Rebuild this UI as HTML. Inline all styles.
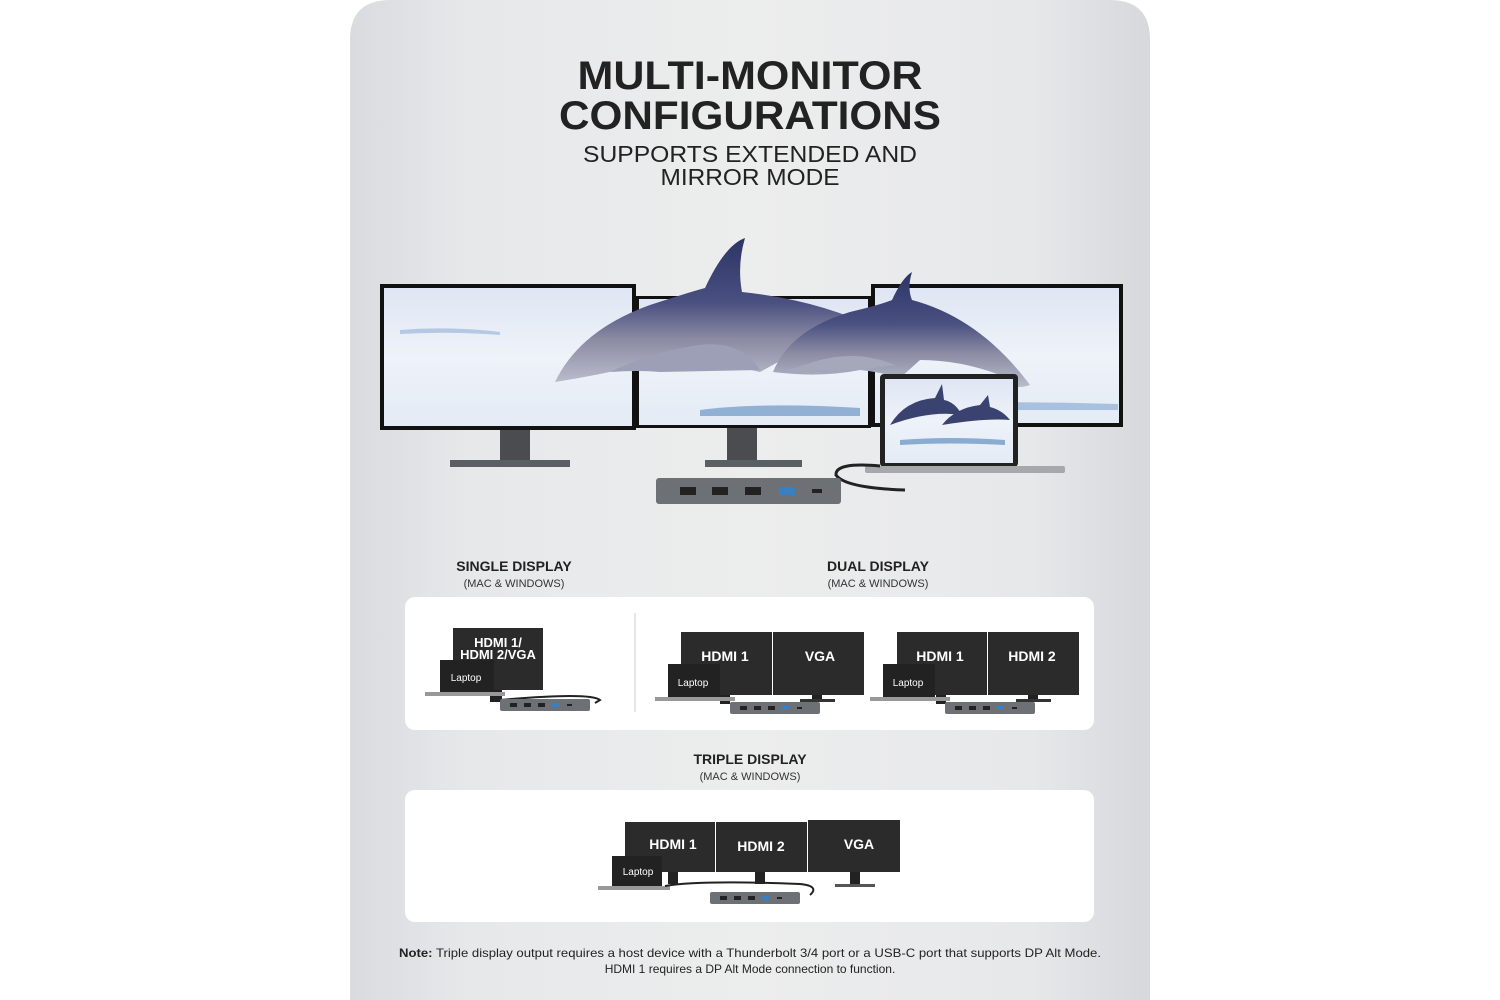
<!DOCTYPE html>
<html><head><meta charset="utf-8"><style>
html,body{margin:0;padding:0;background:#fff;width:1500px;height:1000px;overflow:hidden}
svg{display:block}
text{font-family:"Liberation Sans",sans-serif}
</style></head><body>
<svg width="1500" height="1000" viewBox="0 0 1500 1000" xmlns="http://www.w3.org/2000/svg">
<defs>
<linearGradient id="bg" x1="0" x2="1" y1="0" y2="0">
<stop offset="0" stop-color="#d9dbde"/><stop offset="0.15" stop-color="#e7e8ea"/><stop offset="0.5" stop-color="#eceded"/><stop offset="0.85" stop-color="#e7e8ea"/><stop offset="1" stop-color="#d6d8db"/>
</linearGradient>
<linearGradient id="scr" x1="0" x2="0" y1="0" y2="1">
<stop offset="0" stop-color="#dfe6f3"/><stop offset="0.5" stop-color="#eef2f9"/><stop offset="1" stop-color="#e4ebf5"/>
</linearGradient>
<linearGradient id="dol" x1="0" x2="0" y1="0" y2="1">
<stop offset="0" stop-color="#2c3566"/><stop offset="0.45" stop-color="#4a5080"/><stop offset="0.7" stop-color="#8a8aa3"/><stop offset="1" stop-color="#b9bccb"/>
</linearGradient>
<g id="hubS">
<rect x="0" y="0" width="90" height="12" rx="2" fill="#6d7074"/>
<rect x="10" y="4" width="7" height="4" fill="#222"/><rect x="24" y="4" width="7" height="4" fill="#222"/><rect x="38" y="4" width="7" height="4" fill="#222"/><rect x="52" y="4" width="7" height="4" fill="#3a7fc0"/><rect x="67" y="5" width="5" height="2" fill="#222"/>
</g>
</defs>
<path d="M350 40 Q350 0 390 0 L1110 0 Q1150 0 1150 40 L1150 1000 L350 1000 Z" fill="url(#bg)"/>

<text x="750" y="89" text-anchor="middle" font-size="40" font-weight="bold" fill="#222" textLength="345" lengthAdjust="spacingAndGlyphs">MULTI-MONITOR</text>
<text x="750" y="129" text-anchor="middle" font-size="40" font-weight="bold" fill="#222" textLength="382" lengthAdjust="spacingAndGlyphs">CONFIGURATIONS</text>
<text x="750" y="162" text-anchor="middle" font-size="23" fill="#222" textLength="334" lengthAdjust="spacingAndGlyphs">SUPPORTS EXTENDED AND</text>
<text x="750" y="185" text-anchor="middle" font-size="23" fill="#222" textLength="179" lengthAdjust="spacingAndGlyphs">MIRROR MODE</text>

<g>
<rect x="500" y="425" width="30" height="40" fill="#4a4c50"/><rect x="450" y="460" width="120" height="7" fill="#5b5e62"/>
<rect x="380" y="284" width="256" height="146" fill="#111"/><rect x="384" y="288" width="248" height="138" fill="url(#scr)"/>
<rect x="727" y="425" width="30" height="40" fill="#4a4c50"/><rect x="705" y="460" width="97" height="7" fill="#5b5e62"/>
<rect x="636" y="296" width="235" height="132" fill="#111"/><rect x="639" y="299" width="229" height="126" fill="url(#scr)"/>
<rect x="871" y="284" width="252" height="143" fill="#111"/><rect x="875" y="288" width="244" height="135" fill="url(#scr)"/>
<path d="M700 410 Q760 402 860 408 L860 416 L700 416Z" fill="#4a7fb8" opacity="0.55"/>
<path d="M880 405 Q1000 400 1118 404 L1118 410 L880 410Z" fill="#4a7fb8" opacity="0.4"/>
<path d="M400 330 Q450 326 500 332 L500 335 Q450 331 400 334Z" fill="#7fa3d0" opacity="0.5"/>
<path d="M555 382 Q580 330 650 305 Q690 292 705 288 Q725 245 745 238 Q737 265 742 292 Q820 300 880 330 Q845 345 800 350 L760 372 Q730 365 700 360 Q660 375 640 365 Q600 375 555 382Z" fill="url(#dol)"/>
<path d="M760 370 Q740 340 700 345 Q650 352 610 372 Q640 370 660 372Z" fill="#9d9fb6"/>
<path d="M773 372 Q790 330 850 312 Q880 305 892 300 Q902 278 912 272 Q907 288 912 300 Q980 318 1030 385 Q1010 392 1000 375 Q960 360 920 360 L900 378 Q880 372 860 370 Q820 378 773 372Z" fill="url(#dol)"/>
<path d="M895 365 Q860 350 820 360 Q795 368 780 372 Q820 370 860 370Z" fill="#a5a7bb"/>
<rect x="880" y="374" width="138" height="93" rx="4" fill="#222"/><rect x="885" y="379" width="128" height="84" fill="url(#scr)"/>
<path d="M890 425 Q905 400 935 398 L942 384 L944 400 Q955 402 962 415 Q930 410 890 425Z" fill="#3a4270"/>
<path d="M942 425 Q955 408 980 405 L988 395 L990 407 Q1002 410 1010 420 Q985 418 942 425Z" fill="#3a4270"/>
<path d="M900 440 Q950 436 1005 440 L1005 445 Q950 442 900 445Z" fill="#4a7fb8" opacity="0.6"/>
<rect x="865" y="466" width="200" height="7" rx="2" fill="#a6a8ac"/>
<path d="M880 466 Q835 462 836 475 Q845 488 905 490" stroke="#222" stroke-width="3" fill="none"/>
<rect x="656" y="478" width="185" height="26" rx="3" fill="#6d7074"/>
<rect x="680" y="487" width="16" height="8" fill="#222"/><rect x="712" y="487" width="16" height="8" fill="#222"/><rect x="745" y="487" width="16" height="8" fill="#222"/><rect x="779" y="487" width="16" height="8" fill="#3a7fc0"/><rect x="812" y="489" width="10" height="4" fill="#222"/>
</g>

<text x="514" y="571" text-anchor="middle" font-size="14" font-weight="bold" fill="#222">SINGLE DISPLAY</text>
<text x="514" y="587" text-anchor="middle" font-size="11" fill="#333">(MAC &amp; WINDOWS)</text>
<text x="878" y="571" text-anchor="middle" font-size="14" font-weight="bold" fill="#222">DUAL DISPLAY</text>
<text x="878" y="587" text-anchor="middle" font-size="11" fill="#333">(MAC &amp; WINDOWS)</text>
<text x="750" y="764" text-anchor="middle" font-size="14" font-weight="bold" fill="#222">TRIPLE DISPLAY</text>
<text x="750" y="780" text-anchor="middle" font-size="11" fill="#333">(MAC &amp; WINDOWS)</text>

<rect x="405" y="597" width="689" height="133" rx="10" fill="#fff"/>
<rect x="405" y="790" width="689" height="132" rx="10" fill="#fff"/>
<line x1="635" y1="613" x2="635" y2="712" stroke="#ccc" stroke-width="1"/>

<rect x="490" y="688" width="12" height="14" fill="#222"/>
<rect x="453" y="628" width="90" height="62" fill="#2b2b2b"/>
<text x="498" y="647" text-anchor="middle" font-size="13" font-weight="bold" fill="#fff">HDMI 1/</text>
<text x="498" y="659" text-anchor="middle" font-size="13" font-weight="bold" fill="#fff">HDMI 2/VGA</text>
<rect x="440" y="660" width="54" height="33" fill="#222"/>
<text x="466" y="681" text-anchor="middle" font-size="10" fill="#fff">Laptop</text>
<rect x="425" y="692" width="80" height="4" fill="#999"/>
<path d="M500 700 Q590 692 600 700 L595 703" stroke="#222" stroke-width="2" fill="none"/>
<use href="#hubS" x="500" y="699"/>

<rect x="720" y="692" width="10" height="12" fill="#222"/><rect x="812" y="692" width="10" height="10" fill="#222"/><rect x="800" y="699" width="35" height="3" fill="#333"/>
<rect x="681" y="632" width="91" height="63" fill="#2b2b2b"/><rect x="773" y="632" width="91" height="63" fill="#2b2b2b"/>
<text x="725" y="661" text-anchor="middle" font-size="14" font-weight="bold" fill="#fff">HDMI 1</text>
<text x="820" y="661" text-anchor="middle" font-size="14" font-weight="bold" fill="#fff">VGA</text>
<rect x="668" y="664" width="52" height="34" fill="#222"/>
<text x="693" y="686" text-anchor="middle" font-size="10" fill="#fff">Laptop</text>
<rect x="655" y="697" width="80" height="4" fill="#999"/>
<use href="#hubS" x="730" y="702"/>
<rect x="936" y="692" width="10" height="12" fill="#222"/><rect x="1028" y="692" width="10" height="10" fill="#222"/><rect x="1016" y="699" width="35" height="3" fill="#333"/>
<rect x="897" y="632" width="90" height="63" fill="#2b2b2b"/><rect x="988" y="632" width="91" height="63" fill="#2b2b2b"/>
<text x="940" y="661" text-anchor="middle" font-size="14" font-weight="bold" fill="#fff">HDMI 1</text>
<text x="1032" y="661" text-anchor="middle" font-size="14" font-weight="bold" fill="#fff">HDMI 2</text>
<rect x="883" y="664" width="52" height="34" fill="#222"/>
<text x="908" y="686" text-anchor="middle" font-size="10" fill="#fff">Laptop</text>
<rect x="870" y="697" width="80" height="4" fill="#999"/>
<use href="#hubS" x="945" y="702"/>

<rect x="668" y="870" width="10" height="14" fill="#222"/><rect x="755" y="870" width="10" height="14" fill="#222"/><rect x="850" y="870" width="10" height="15" fill="#222"/><rect x="835" y="884" width="40" height="3" fill="#555"/>
<rect x="625" y="822" width="90" height="50" fill="#2b2b2b"/><rect x="716" y="822" width="91" height="50" fill="#2b2b2b"/><rect x="808" y="820" width="92" height="52" fill="#2b2b2b"/>
<text x="673" y="849" text-anchor="middle" font-size="14" font-weight="bold" fill="#fff">HDMI 1</text>
<text x="761" y="851" text-anchor="middle" font-size="14" font-weight="bold" fill="#fff">HDMI 2</text>
<text x="859" y="849" text-anchor="middle" font-size="14" font-weight="bold" fill="#fff">VGA</text>
<rect x="612" y="856" width="50" height="31" fill="#222"/>
<text x="638" y="875" text-anchor="middle" font-size="10" fill="#fff">Laptop</text>
<rect x="598" y="886" width="72" height="4" fill="#999"/>
<path d="M665 886 Q700 880 800 884 Q820 886 810 895" stroke="#222" stroke-width="2" fill="none"/>
<use href="#hubS" x="710" y="892"/>

<text x="750" y="957" text-anchor="middle" font-size="12" fill="#222" textLength="702" lengthAdjust="spacingAndGlyphs"><tspan font-weight="bold">Note:</tspan> Triple display output requires a host device with a Thunderbolt 3/4 port or a USB-C port that supports DP Alt Mode.</text>
<text x="750" y="973" text-anchor="middle" font-size="12" fill="#222">HDMI 1 requires a DP Alt Mode connection to function.</text>
</svg>
</body></html>
